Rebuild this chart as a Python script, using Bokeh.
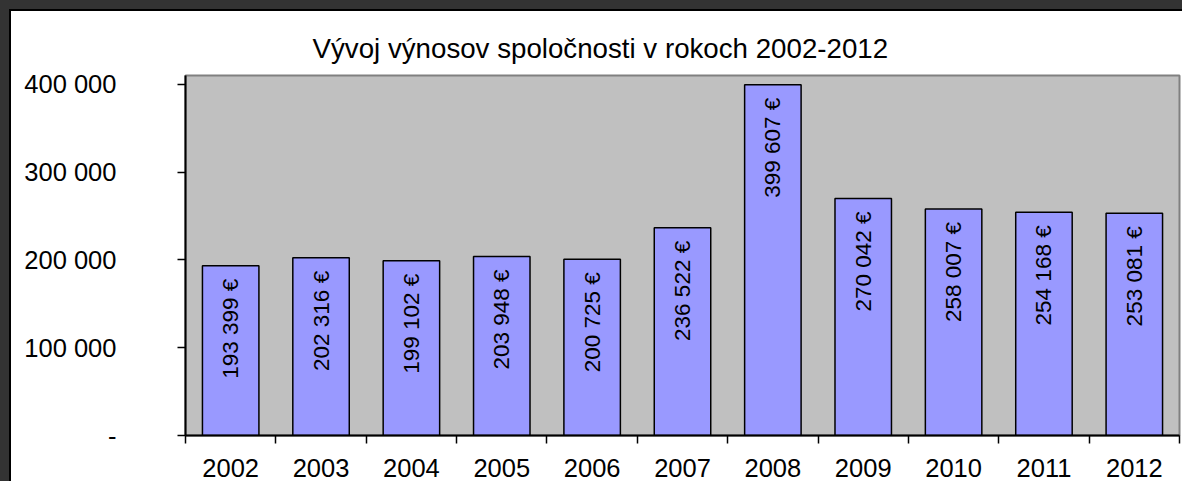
import math
from bokeh.plotting import figure
from bokeh.models import Range1d, FixedTicker
from bokeh.core.properties import value
from bokeh.embed import file_html
from bokeh.resources import INLINE

# ---- data ----
years = ["2002", "2003", "2004", "2005", "2006", "2007", "2008", "2009", "2010", "2011", "2012"]
revenues = [193399, 202316, 199102, 203948, 200725, 236522, 399607, 270042, 258007, 254168, 253081]
y_ticks = [0, 100000, 200000, 300000, 400000]
y_tick_labels = ["-", "100 000", "200 000", "300 000", "400 000"]
title_text = "Vývoj výnosov spoločnosti v rokoch 2002-2012"

FONT = "Liberation Sans"

def fmt_eur(v):
    return f"{v:,}".replace(",", " ") + " €"

idx = list(range(len(years)))
labels = [fmt_eur(v) for v in revenues]

p = figure(width=1173, height=472, output_backend="svg", toolbar_location=None,
           x_range=Range1d(-0.5, len(years) - 0.5), y_range=Range1d(0, 410000),
           min_border_left=174, min_border_right=5, min_border_top=64, min_border_bottom=48)
p.title.text = title_text
p.title.align = "left"
p.title.offset = 127
p.title.standoff = 23
p.title.text_font = FONT
p.title.text_font_size = "27.7px"
p.title.text_font_style = "normal"
p.title.text_color = "black"

p.background_fill_color = "#c0c0c0"
p.border_fill_color = "white"
p.outline_line_color = "#808080"
p.outline_line_width = 2
p.xgrid.visible = False
p.ygrid.visible = False

p.styles = {
    "margin": "9px 0px 0px 9px",
    "border-top": "2px solid #000000",
    "border-left": "2px solid #000000",
    "box-shadow": "-5px -5px 0px 5px #333333",
}

# bars
p.vbar(x=idx, top=revenues, width=0.625, bottom=0,
       fill_color="#9999ff", line_color="black", line_width=1.5)

# value labels inside bars
p.text(x=idx, y=revenues, text=labels, angle=math.pi / 2,
       text_align="right", text_baseline="middle", y_offset=13,
       text_font=value(FONT), text_font_size="22.5px", text_color="black")

# x axis
xa = p.xaxis[0]
xa.ticker = FixedTicker(ticks=idx, minor_ticks=[i - 0.5 for i in range(len(years) + 1)])
xa.major_label_overrides = {i: y for i, y in zip(idx, years)}
xa.major_tick_out = 0
xa.major_tick_in = 0
xa.minor_tick_out = 8
xa.minor_tick_in = 0
xa.minor_tick_line_color = "black"
xa.minor_tick_line_width = 1.5
xa.axis_line_color = "black"
xa.axis_line_width = 2
xa.major_label_standoff = 15
xa.major_label_text_font = FONT
xa.major_label_text_font_size = "25.5px"
xa.major_label_text_color = "black"

# y axis
ya = p.yaxis[0]
ya.ticker = FixedTicker(ticks=y_ticks)
ya.major_label_overrides = {t: l for t, l in zip(y_ticks, y_tick_labels)}
ya.major_tick_out = 8
ya.major_tick_in = 0
ya.minor_tick_out = 0
ya.minor_tick_in = 0
ya.major_tick_line_color = "black"
ya.major_tick_line_width = 1.5
ya.axis_line_color = "black"
ya.axis_line_width = 2
ya.major_label_standoff = 61
ya.major_label_text_font = FONT
ya.major_label_text_font_size = "25.5px"
ya.major_label_text_color = "black"

open("out.html", "w").write(file_html(p, INLINE))
